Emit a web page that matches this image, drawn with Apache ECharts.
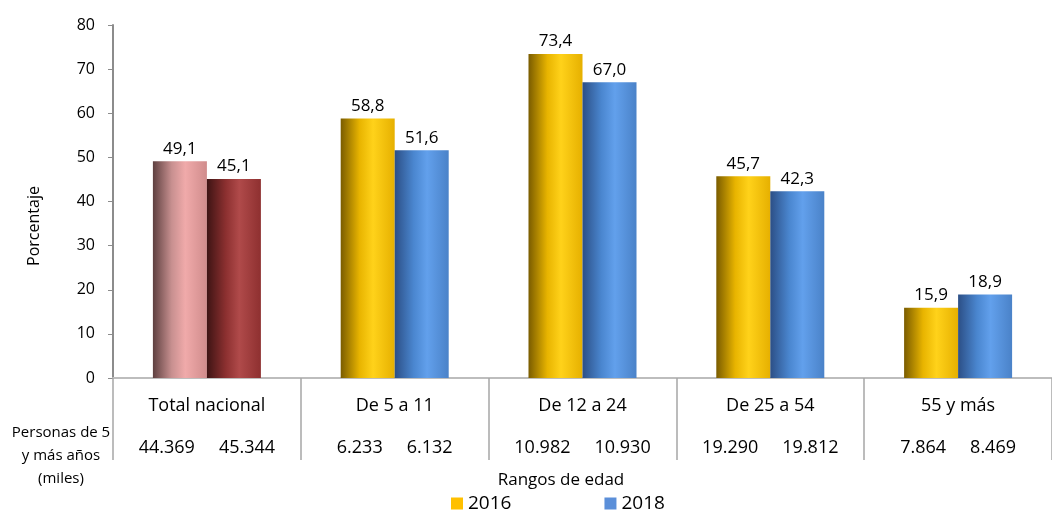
<!DOCTYPE html>
<html>
<head>
<meta charset="utf-8">
<script src="https://cdn.jsdelivr.net/npm/echarts@6/dist/echarts.min.js"></script>
<style>
  html, body { margin: 0; padding: 0; background: #fff; }
  #chart { width: 1052px; height: 515px; }
</style>
</head>
<body>
<div id="chart"></div>
<script>
// datos
const categorias = ['Total nacional', 'De 5 a 11', 'De 12 a 24', 'De 25 a 54', '55 y más']
const valores2016 = [49.1, 58.8, 73.4, 45.7, 15.9]
const valores2018 = [45.1, 51.6, 67.0, 42.3, 18.9]
const personas2016 = [44369, 6233, 10982, 19290, 7864]
const personas2018 = [45344, 6132, 10930, 19812, 8469]
const ticksY = [0, 10, 20, 30, 40, 50, 60, 70, 80]

const FONT = '"Open Sans", sans-serif'

// degradado tipo cilindro
const cilindro = (c0, c1, c2, c3) => new echarts.graphic.LinearGradient(0, 0, 1, 0, [
  { offset: 0, color: c0 },
  { offset: 0.35, color: c1 },
  { offset: 0.6, color: c2 },
  { offset: 1, color: c3 }
])

const amarillo = cilindro('#7a5c00', '#e8b400', '#ffd21a', '#e6b000')
const azul = cilindro('#2c4f86', '#4a86cf', '#62a0ec', '#4a82c8')
const rosa = cilindro('#5e4040', '#c89090', '#f0aaaa', '#d08c8c')
const granate = cilindro('#3e1414', '#8c3030', '#b04a4a', '#8e3030')

const miles = (n) => String(n).replace(/\B(?=(\d{3})+(?!\d))/g, '.')
const coma = (v) => v.toFixed(1).replace('.', ',')

const chart = echarts.init(document.getElementById('chart'))

const etiqueta = {
  show: true,
  position: 'top',
  distance: 4,
  color: '#000',
  fontSize: 17,
  fontFamily: FONT,
  formatter: (p) => coma(p.value)
}

chart.setOption({
  animation: false,
  textStyle: { fontFamily: FONT },
  grid: { left: 113, right: -10, top: 25, bottom: 137 },
  legend: {
    left: 451,
    top: 494,
    padding: 0,
    itemWidth: 12,
    itemHeight: 12,
    itemGap: 93,
    icon: 'rect',
    textStyle: { fontSize: 19, color: '#000', fontFamily: FONT },
    data: [
      { name: '2016', itemStyle: { color: '#ffc000' } },
      { name: '2018', itemStyle: { color: '#5b8fd9' } }
    ]
  },
  xAxis: {
    type: 'category',
    data: categorias,
    axisLine: { lineStyle: { color: '#bdbdbd', width: 2 } },
    axisTick: { show: true, interval: 0, length: 82, lineStyle: { color: '#a6a6a6', width: 1.5 } },
    axisLabel: {
      interval: 0,
      margin: 16,
      formatter: (v, i) => `{c|${v}}\n{a|${miles(personas2016[i])}}{b|${miles(personas2018[i])}}`,
      rich: {
        c: { fontSize: 18, color: '#000', lineHeight: 24, fontFamily: FONT },
        a: { fontSize: 18, color: '#000', lineHeight: 60, padding: [0, 12, 0, 0], fontFamily: FONT },
        b: { fontSize: 18, color: '#000', lineHeight: 60, padding: [0, 0, 0, 12], fontFamily: FONT }
      }
    }
  },
  yAxis: {
    type: 'value',
    min: ticksY[0],
    max: ticksY[ticksY.length - 1],
    interval: 10,
    splitLine: { show: false },
    axisLine: { show: true, lineStyle: { color: '#8c8c8c', width: 2 } },
    axisTick: { show: true, length: 5, lineStyle: { color: '#8c8c8c' } },
    axisLabel: { fontSize: 16, color: '#000', margin: 18, fontFamily: FONT }
  },
  graphic: [
    {
      type: 'text',
      x: 34,
      y: 226,
      rotation: Math.PI / 2,
      style: { text: 'Porcentaje', fontSize: 16, fill: '#000', fontFamily: FONT, textAlign: 'center', textVerticalAlign: 'middle' }
    },
    {
      type: 'text',
      x: 61,
      y: 421,
      style: {
        text: 'Personas de 5\ny más años\n(miles)',
        fontSize: 15,
        lineHeight: 23,
        fill: '#000',
        fontFamily: FONT,
        textAlign: 'center'
      }
    },
    {
      type: 'text',
      x: 561,
      y: 472,
      style: { text: 'Rangos de edad', fontSize: 17, fill: '#000', fontFamily: FONT, textAlign: 'center' }
    }
  ],
  series: [
    {
      name: '2016',
      type: 'bar',
      barWidth: 54,
      barGap: '0%',
      itemStyle: { color: amarillo },
      label: etiqueta,
      data: valores2016.map((v, i) => i === 0 ? { value: v, itemStyle: { color: rosa } } : v)
    },
    {
      name: '2018',
      type: 'bar',
      barWidth: 54,
      barGap: '0%',
      itemStyle: { color: azul },
      label: etiqueta,
      data: valores2018.map((v, i) => i === 0 ? { value: v, itemStyle: { color: granate } } : v)
    }
  ]
})
</script>
</body>
</html>
